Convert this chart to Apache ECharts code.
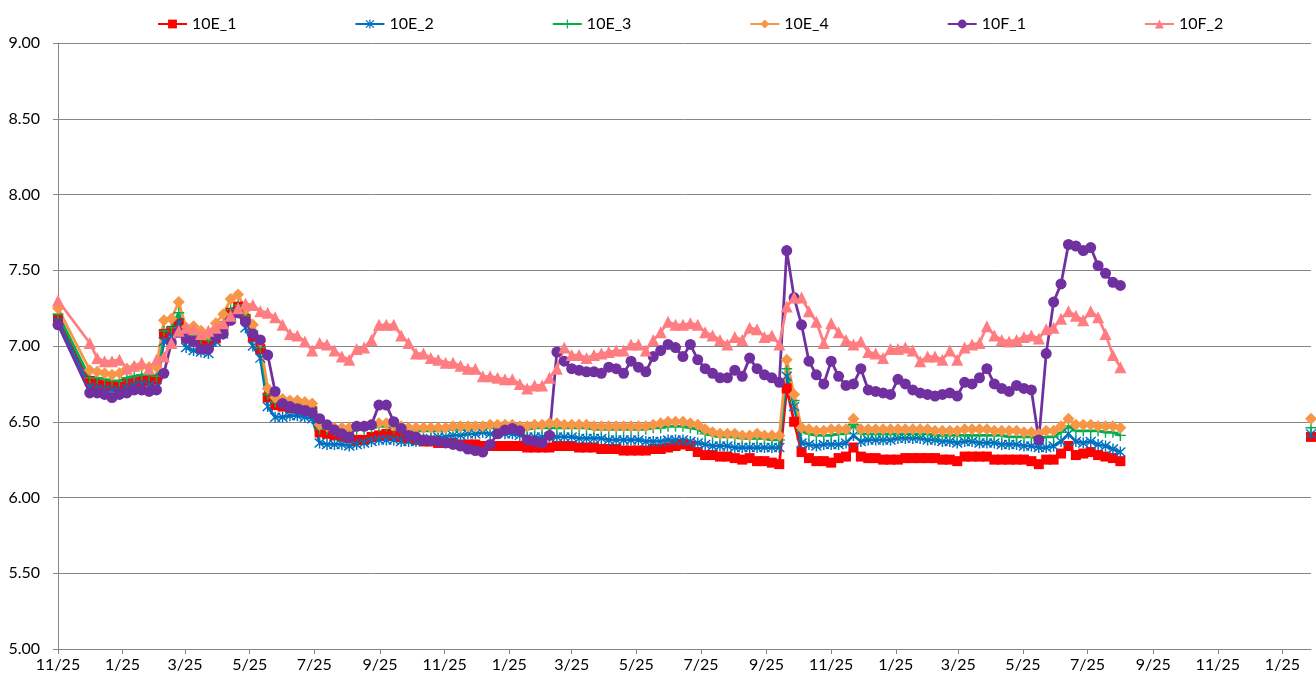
<!DOCTYPE html>
<html>
<head>
<meta charset="utf-8">
<script src="https://cdn.jsdelivr.net/npm/echarts@6/dist/echarts.min.js"></script>
<style>
html,body{margin:0;padding:0;background:#fff;}
#chart{width:1316px;height:691px;}
</style>
</head>
<body>
<div id="chart"></div>
<script>
// Sample dates (first reading, weekly readings, one late reading)
const dates = ['2012-11-25','2012-12-25',
'2013-01-01','2013-01-08','2013-01-15','2013-01-22','2013-01-29','2013-02-05','2013-02-12','2013-02-19','2013-02-26',
'2013-03-05','2013-03-12','2013-03-19','2013-03-26','2013-04-02','2013-04-09','2013-04-16','2013-04-23','2013-04-30',
'2013-05-07','2013-05-14','2013-05-21','2013-05-28','2013-06-04','2013-06-11','2013-06-18','2013-06-25','2013-07-02',
'2013-07-09','2013-07-16','2013-07-23','2013-07-30','2013-08-06','2013-08-13','2013-08-20','2013-08-27','2013-09-03',
'2013-09-10','2013-09-17','2013-09-24','2013-10-01','2013-10-08','2013-10-15','2013-10-22','2013-10-29','2013-11-05',
'2013-11-12','2013-11-19','2013-11-26','2013-12-03','2013-12-10','2013-12-17','2013-12-24','2013-12-31',
'2014-01-07','2014-01-14','2014-01-21','2014-01-28','2014-02-04','2014-02-11','2014-02-18','2014-02-25','2014-03-04',
'2014-03-11','2014-03-18','2014-03-25','2014-04-01','2014-04-08','2014-04-15','2014-04-22','2014-04-29','2014-05-06',
'2014-05-13','2014-05-20','2014-05-27','2014-06-03','2014-06-10','2014-06-17','2014-06-24','2014-07-01','2014-07-08',
'2014-07-15','2014-07-22','2014-07-29','2014-08-05','2014-08-12','2014-08-19','2014-08-26','2014-09-02','2014-09-09',
'2014-09-16','2014-09-23','2014-09-30','2014-10-07','2014-10-14','2014-10-21','2014-10-28','2014-11-04','2014-11-11',
'2014-11-18','2014-11-25','2014-12-02','2014-12-09','2014-12-16','2014-12-23','2014-12-30',
'2015-01-06','2015-01-13','2015-01-20','2015-01-27','2015-02-03','2015-02-10','2015-02-17','2015-02-24','2015-03-03',
'2015-03-10','2015-03-17','2015-03-24','2015-03-31','2015-04-07','2015-04-14','2015-04-21','2015-04-28','2015-05-05',
'2015-05-12','2015-05-19','2015-05-26','2015-06-02','2015-06-09','2015-06-16','2015-06-23','2015-06-30','2015-07-07',
'2015-07-14','2015-07-21','2015-07-28','2015-08-04','2015-08-11','2015-08-18','2015-08-25',
'2016-02-21'];

const tickDates = ['2012-11-25','2013-01-25','2013-03-25','2013-05-25','2013-07-25','2013-09-25','2013-11-25',
'2014-01-25','2014-03-25','2014-05-25','2014-07-25','2014-09-25','2014-11-25',
'2015-01-25','2015-03-25','2015-05-25','2015-07-25','2015-09-25','2015-11-25','2016-01-25'];
const tickLabels = ['11/25','1/25','3/25','5/25','7/25','9/25','11/25','1/25','3/25','5/25','7/25','9/25','11/25',
'1/25','3/25','5/25','7/25','9/25','11/25','1/25'];

const seriesNames = ['10E_1','10E_2','10E_3','10E_4','10F_1','10F_2'];

const v10E_1 = [7.18,
6.77,6.75,6.74,6.74,6.73,6.75,6.76,6.77,6.77,6.78,
7.08,7.10,7.15,7.05,7.03,7.02,7.00,7.05,7.12,7.22,
7.26,7.18,7.06,6.98,6.66,6.61,6.60,6.59,6.59,6.58,
6.57,6.43,6.42,6.41,6.40,6.39,6.38,6.38,6.40,6.41,
6.42,6.41,6.40,6.39,6.38,6.37,6.37,6.36,6.36,6.36,
6.35,6.35,6.35,6.34,6.34,6.34,6.34,6.34,6.34,6.33,
6.33,6.33,6.33,6.34,6.34,6.34,6.33,6.33,6.33,6.32,
6.32,6.32,6.31,6.31,6.31,6.31,6.32,6.32,6.33,6.34,
6.35,6.34,6.30,6.28,6.28,6.27,6.27,6.26,6.25,6.26,
6.24,6.24,6.23,6.22,6.72,6.50,6.30,6.26,6.24,6.24,
6.23,6.26,6.27,6.33,6.27,6.26,6.26,6.25,6.25,6.25,
6.26,6.26,6.26,6.26,6.26,6.25,6.25,6.24,6.27,6.27,
6.27,6.27,6.25,6.25,6.25,6.25,6.25,6.24,6.22,6.25,
6.25,6.29,6.34,6.28,6.29,6.30,6.28,6.27,6.26,6.24,
6.40];

const v10E_2 = [7.16,
6.73,6.72,6.71,6.71,6.70,6.72,6.74,6.75,6.74,6.73,
7.03,7.06,7.15,6.99,6.97,6.96,6.95,7.03,7.08,7.18,
7.22,7.12,7.00,6.92,6.60,6.53,6.53,6.54,6.54,6.53,
6.52,6.36,6.35,6.35,6.35,6.34,6.35,6.36,6.37,6.38,
6.38,6.38,6.37,6.37,6.37,6.38,6.39,6.40,6.40,6.41,
6.41,6.42,6.42,6.43,6.42,6.43,6.42,6.42,6.41,6.40,
6.40,6.40,6.40,6.40,6.40,6.40,6.39,6.39,6.39,6.39,
6.38,6.38,6.38,6.38,6.38,6.37,6.37,6.37,6.38,6.38,
6.38,6.37,6.36,6.35,6.34,6.34,6.34,6.33,6.33,6.33,
6.33,6.33,6.33,6.33,6.80,6.60,6.36,6.35,6.34,6.35,
6.35,6.35,6.36,6.41,6.37,6.38,6.38,6.38,6.38,6.39,
6.39,6.39,6.39,6.38,6.38,6.37,6.37,6.36,6.37,6.37,
6.36,6.36,6.36,6.35,6.35,6.35,6.34,6.34,6.33,6.33,
6.34,6.37,6.42,6.37,6.36,6.37,6.35,6.34,6.32,6.30,
6.42];

const v10E_3 = [7.21,
6.79,6.79,6.78,6.77,6.77,6.79,6.80,6.81,6.81,6.80,
7.10,7.12,7.22,7.08,7.07,7.05,7.04,7.10,7.16,7.24,
7.27,7.20,7.10,6.99,6.68,6.63,6.62,6.61,6.61,6.60,
6.59,6.45,6.45,6.44,6.44,6.44,6.45,6.45,6.46,6.47,
6.47,6.46,6.45,6.44,6.44,6.44,6.44,6.44,6.45,6.45,
6.45,6.45,6.46,6.46,6.46,6.46,6.46,6.46,6.45,6.45,
6.46,6.46,6.46,6.46,6.46,6.46,6.46,6.46,6.45,6.45,
6.45,6.45,6.45,6.45,6.45,6.45,6.46,6.46,6.47,6.47,
6.47,6.46,6.45,6.42,6.41,6.40,6.40,6.40,6.39,6.39,
6.39,6.39,6.38,6.38,6.85,6.64,6.44,6.42,6.41,6.41,
6.41,6.42,6.42,6.48,6.42,6.42,6.42,6.42,6.42,6.42,
6.42,6.42,6.42,6.42,6.41,6.41,6.41,6.41,6.41,6.41,
6.41,6.41,6.41,6.41,6.40,6.40,6.40,6.40,6.39,6.40,
6.40,6.43,6.47,6.44,6.44,6.44,6.44,6.43,6.43,6.41,
6.46];

const v10E_4 = [7.25,
6.84,6.83,6.82,6.81,6.82,6.85,6.86,6.87,6.86,6.86,
7.17,7.18,7.29,7.12,7.13,7.10,7.08,7.15,7.21,7.31,
7.34,7.24,7.14,7.03,6.72,6.66,6.65,6.64,6.64,6.63,
6.62,6.48,6.47,6.46,6.46,6.46,6.47,6.47,6.48,6.49,
6.49,6.48,6.47,6.46,6.46,6.46,6.46,6.46,6.46,6.47,
6.47,6.47,6.47,6.47,6.48,6.48,6.48,6.48,6.47,6.47,
6.48,6.48,6.49,6.49,6.48,6.48,6.48,6.48,6.47,6.47,
6.47,6.47,6.47,6.47,6.47,6.47,6.48,6.49,6.50,6.50,
6.50,6.49,6.48,6.45,6.43,6.42,6.42,6.42,6.41,6.41,
6.42,6.41,6.41,6.41,6.91,6.68,6.46,6.45,6.44,6.44,
6.45,6.45,6.45,6.52,6.45,6.45,6.45,6.45,6.45,6.45,
6.45,6.45,6.45,6.45,6.44,6.44,6.44,6.44,6.45,6.45,
6.45,6.45,6.44,6.44,6.44,6.44,6.43,6.43,6.42,6.44,
6.44,6.47,6.52,6.48,6.48,6.48,6.47,6.47,6.47,6.46,
6.52];

const v10F_1 = [7.14,
6.69,6.69,6.68,6.66,6.68,6.69,6.71,6.71,6.70,6.71,
6.82,7.02,7.09,7.05,7.03,6.98,6.98,7.06,7.08,7.17,
7.22,7.16,7.08,7.04,6.94,6.70,6.62,6.60,6.585,6.575,
6.56,6.52,6.48,6.445,6.42,6.40,6.47,6.47,6.48,6.61,
6.61,6.50,6.456,6.41,6.40,6.38,6.375,6.37,6.36,6.35,
6.34,6.32,6.31,6.30,6.35,6.42,6.445,6.456,6.44,6.38,
6.37,6.36,6.41,6.96,6.90,6.85,6.84,6.83,6.83,6.82,
6.86,6.85,6.82,6.90,6.86,6.83,6.93,6.97,7.01,6.99,
6.93,7.01,6.91,6.85,6.82,6.79,6.79,6.84,6.80,6.92,
6.85,6.81,6.79,6.76,7.63,7.32,7.14,6.90,6.81,6.75,
6.90,6.80,6.74,6.75,6.85,6.71,6.70,6.69,6.68,6.78,
6.75,6.71,6.69,6.68,6.67,6.68,6.69,6.67,6.76,6.75,
6.79,6.85,6.75,6.72,6.70,6.74,6.72,6.71,6.38,6.95,
7.29,7.41,7.67,7.66,7.63,7.65,7.53,7.48,7.42,7.40];

const v10F_2 = [7.30,
7.02,6.92,6.90,6.90,6.91,6.85,6.87,6.89,6.85,6.91,
6.93,7.02,7.10,7.12,7.11,7.08,7.10,7.12,7.15,7.20,
7.25,7.28,7.27,7.23,7.22,7.19,7.14,7.08,7.07,7.03,
6.97,7.02,7.01,6.97,6.93,6.91,6.98,6.99,7.04,7.14,
7.14,7.14,7.07,7.02,6.95,6.95,6.92,6.91,6.89,6.89,
6.87,6.85,6.85,6.80,6.80,6.79,6.78,6.78,6.75,6.72,
6.74,6.74,6.79,6.85,6.99,6.94,6.94,6.92,6.94,6.95,
6.96,6.97,6.97,7.01,7.01,6.97,7.04,7.09,7.16,7.14,
7.14,7.15,7.14,7.09,7.07,7.04,7.01,7.06,7.04,7.12,
7.11,7.06,7.07,7.01,7.26,7.32,7.32,7.23,7.16,7.02,
7.15,7.09,7.04,7.01,7.03,6.96,6.95,6.92,6.98,6.98,
6.99,6.97,6.90,6.93,6.93,6.91,6.97,6.91,6.99,7.01,
7.02,7.13,7.07,7.04,7.03,7.04,7.06,7.07,7.05,7.11,
7.12,7.18,7.23,7.20,7.17,7.23,7.19,7.08,6.94,6.86];

const DAY = 86400000;
function ts(s) { const p = s.split('-'); return Date.UTC(+p[0], +p[1] - 1, +p[2]); }
// Build [time, value] pairs; a missing stretch of readings (> 60 days) breaks the line.
function pairs(vals) {
  const out = [];
  let prev = null;
  for (let i = 0; i < vals.length; i++) {
    if (vals[i] == null) continue;
    const t = ts(dates[i]);
    if (prev !== null && t - prev > 60 * DAY) out.push([t, null]);
    out.push([t, vals[i]]);
    prev = t;
  }
  return out;
}
const tickTs = tickDates.map(ts);
const labelMap = {};
tickTs.forEach((t, i) => { labelMap[t] = tickLabels[i]; });

const asterisk = 'path://M4.4,0 L5.6,0 L5.6,10 L4.4,10 Z M0.5,1.35 L1.35,0.5 L9.5,8.65 L8.65,9.5 Z M8.65,0.5 L9.5,1.35 L1.35,9.5 L0.5,8.65 Z';
const plus = 'path://M4.35,0 L5.65,0 L5.65,10 L4.35,10 Z M0,4.35 L10,4.35 L10,5.65 L0,5.65 Z';

const styles = [
  {color:'#FF0000', symbol:'rect', size:10},
  {color:'#0070C0', symbol:asterisk, size:11},
  {color:'#00B050', symbol:plus, size:11},
  {color:'#F79646', symbol:'diamond', size:12},
  {color:'#7030A0', symbol:'circle', size:11},
  {color:'#FF7C80', symbol:'triangle', size:12}
];
const valueArrays = [v10E_1, v10E_2, v10E_3, v10E_4, v10F_1, v10F_2];

const series = seriesNames.map((name, i) => ({
  name: name,
  type: 'line',
  data: pairs(valueArrays[i]),
  symbol: styles[i].symbol,
  symbolSize: styles[i].size,
  showSymbol: true,
  showAllSymbol: true,
  connectNulls: false,
  color: styles[i].color,
  lineStyle: {width: 2.75, color: styles[i].color},
  itemStyle: {color: styles[i].color},
  emphasis: {disabled: true},
  clip: false
}));

const font = 'Lato';
const chart = echarts.init(document.getElementById('chart'), null, {renderer: 'canvas'});
chart.setOption({
  animation: false,
  backgroundColor: '#ffffff',
  grid: {left: 58, right: 5, top: 43, bottom: 42, containLabel: false},
  legend: {
    data: seriesNames,
    left: 152, top: 11,
    itemWidth: 29, itemHeight: 11, itemGap: 118,
    textStyle: {fontFamily: font, fontSize: 16, color: '#000'}
  },
  xAxis: {
    type: 'value',
    min: ts(dates[0]),
    max: ts(dates[dates.length - 1]),
    axisLine: {show: true, lineStyle: {color: '#868686', width: 1}},
    axisTick: {show: true, length: 5, lineStyle: {color: '#868686'}, customValues: tickTs},
    axisLabel: {
      customValues: tickTs,
      margin: 8,
      fontFamily: font, fontSize: 16, color: '#000',
      formatter: function (v) { return labelMap[v] !== undefined ? labelMap[v] : ''; }
    },
    splitLine: {show: false}
  },
  yAxis: {
    type: 'value',
    min: 5, max: 9, interval: 0.5,
    axisLine: {show: true, lineStyle: {color: '#868686', width: 1}},
    axisTick: {show: true, length: 5, lineStyle: {color: '#868686'}},
    axisLabel: {margin: 18, fontFamily: font, fontSize: 16, color: '#000',
      formatter: function (v) { return v.toFixed(2); }},
    splitLine: {show: true, lineStyle: {color: '#868686', width: 1}}
  },
  series: series
});
</script>
</body>
</html>
